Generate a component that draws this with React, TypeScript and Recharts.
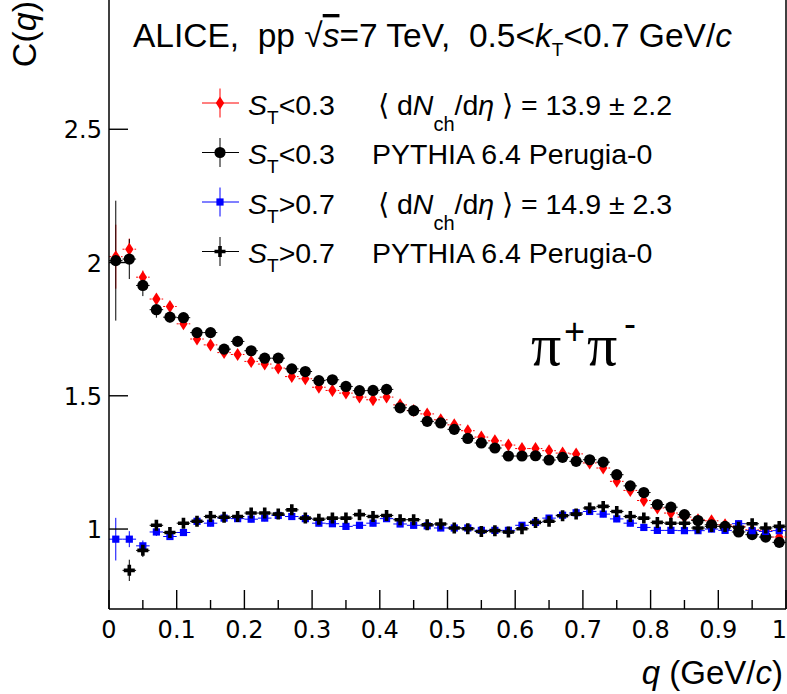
import React from 'react';
import { ScatterChart, Scatter, XAxis, YAxis, ErrorBar, ReferenceLine, Legend } from 'recharts';

// bin centres of q (GeV/c), bin width 0.02
const Q = [
  0.01, 0.03, 0.05, 0.07, 0.09, 0.11, 0.13, 0.15, 0.17, 0.19,
  0.21, 0.23, 0.25, 0.27, 0.29, 0.31, 0.33, 0.35, 0.37, 0.39,
  0.41, 0.43, 0.45, 0.47, 0.49, 0.51, 0.53, 0.55, 0.57, 0.59,
  0.61, 0.63, 0.65, 0.67, 0.69, 0.71, 0.73, 0.75, 0.77, 0.79,
  0.81, 0.83, 0.85, 0.87, 0.89, 0.91, 0.93, 0.95, 0.97, 0.99,
];
const BIN_HALF = 0.01;

// data, S_T < 0.3 (red diamonds)
const DATA_LOW = [
  2.022, 2.05, 1.945, 1.863, 1.835, 1.77, 1.713, 1.691, 1.662, 1.655,
  1.629, 1.619, 1.604, 1.572, 1.564, 1.532, 1.52, 1.51, 1.495, 1.485,
  1.495, 1.466, 1.445, 1.432, 1.41, 1.391, 1.369, 1.345, 1.331, 1.315,
  1.302, 1.302, 1.294, 1.285, 1.282, 1.248, 1.229, 1.179, 1.145, 1.107,
  1.079, 1.06, 1.045, 1.035, 1.031, 1.016, 1.01, 0.997, 0.994, 0.97,
];
// PYTHIA, S_T < 0.3 (black circles)
const PYTHIA_LOW = [
  2.007, 2.013, 1.914, 1.823, 1.795, 1.793, 1.737, 1.737, 1.675, 1.704,
  1.669, 1.641, 1.641, 1.601, 1.591, 1.557, 1.56, 1.535, 1.519, 1.52,
  1.524, 1.455, 1.444, 1.404, 1.398, 1.374, 1.34, 1.323, 1.304, 1.274,
  1.274, 1.275, 1.259, 1.269, 1.254, 1.26, 1.251, 1.204, 1.162, 1.137,
  1.092, 1.082, 1.054, 1.032, 1.016, 1.01, 0.989, 0.979, 0.97, 0.95,
];
// data, S_T > 0.7 (blue squares)
const DATA_HIGH = [
  0.962, 0.962, 0.937, 0.989, 0.972, 0.987, 1.029, 1.022, 1.041, 1.039,
  1.037, 1.041, 1.051, 1.047, 1.039, 1.022, 1.02, 1.01, 1.014, 1.022,
  1.039, 1.019, 1.014, 1.012, 1.004, 1.004, 1.004, 0.995, 0.995, 0.995,
  1.014, 1.025, 1.041, 1.052, 1.061, 1.066, 1.056, 1.038, 1.022, 1.006,
  0.995, 0.995, 0.994, 0.994, 1.0, 0.995, 1.02, 0.994, 0.991, 0.994,
];
// PYTHIA, S_T > 0.7 (black crosses)
const PYTHIA_HIGH = [
  null, 0.845, 0.92, 1.014, 0.987, 1.022, 1.029, 1.047, 1.044, 1.047,
  1.06, 1.06, 1.056, 1.072, 1.041, 1.037, 1.041, 1.041, 1.054, 1.047,
  1.051, 1.035, 1.035, 1.016, 1.019, 1.004, 1.001, 0.991, 0.994, 0.989,
  1.001, 1.025, 1.029, 1.05, 1.056, 1.079, 1.085, 1.066, 1.047, 1.041,
  1.025, 1.022, 1.022, 1.004, 1.01, 1.01, 1.007, 1.02, 1.004, 1.01,
];

// statistical errors of the first bins; later bins sit inside the markers
const ERR_DATA_LOW = [0.12, 0.04, 0.025, 0.02, 0.018, 0.015];
const ERR_PYTHIA_LOW = [0.225, 0.075, 0.04, 0.03, 0.02, 0.018];
const ERR_DATA_HIGH = [0.08, 0.03, 0.02, 0.015, 0.012];
const ERR_PYTHIA_HIGH = [0.06, 0.04, 0.025, 0.018, 0.015];
const ERR_REST = 0.012;

const Y_TICKS = [1, 1.5, 2, 2.5];
const X_TICKS = [
  0, 0.05, 0.1, 0.15, 0.2, 0.25, 0.3, 0.35, 0.4, 0.45, 0.5,
  0.55, 0.6, 0.65, 0.7, 0.75, 0.8, 0.85, 0.9, 0.95, 1,
];

const CUTS = ['<0.3', '<0.3', '>0.7', '>0.7'];
const MULTS = ['13.9 \u00b1 2.2', null, '14.9 \u00b1 2.3', null];
const MODEL = 'PYTHIA 6.4 Perugia-0';

const toPoints = (vals: (number | null)[], errs: number[]) =>
  Q.map((q, i) => ({ q, v: vals[i], ex: BIN_HALF, ey: errs[i] ?? ERR_REST })).filter((p) => p.v != null);

const redPts = toPoints(DATA_LOW, ERR_DATA_LOW);
const blackPts = toPoints(PYTHIA_LOW, ERR_PYTHIA_LOW);
const bluePts = toPoints(DATA_HIGH, ERR_DATA_HIGH);
const crossPts = toPoints(PYTHIA_HIGH, ERR_PYTHIA_HIGH);

const SANS = 'Liberation Sans, Arial, sans-serif';

// marker shapes (ROOT styles 33, 20, 21, 34)
const Diamond = ({ cx, cy }: any) => (
  <polygon points={`${cx},${cy - 6.5} ${cx + 4.2},${cy} ${cx},${cy + 6.5} ${cx - 4.2},${cy}`} fill="#ff0000" />
);
const Circle = ({ cx, cy }: any) => <circle cx={cx} cy={cy} r={5.6} fill="#000" />;
const Square = ({ cx, cy }: any) => <rect x={cx - 3.6} y={cy - 3.6} width={7.2} height={7.2} fill="#0000ff" />;
const Cross = ({ cx, cy }: any) => (
  <path
    d={`M${cx - 1.8},${cy - 5.5}h3.6v3.7h3.7v3.6h-3.7v3.7h-3.6v-3.7h-3.7v-3.6h3.7z`}
    fill="#000"
  />
);
const SHAPES = [Diamond, Circle, Square, Cross];
const COLORS = ['#ff0000', '#000000', '#0000ff', '#000000'];

const fmtX = (v: number) => (v === 0 ? '0' : v === 1 ? '1' : v.toFixed(1));

const XTick = ({ x, y, payload }: any) => {
  const v = payload.value;
  const major = Math.abs(v * 10 - Math.round(v * 10)) < 1e-6;
  const last = v === 1;
  return (
    <g>
      <line x1={x} x2={x} y1={y} y2={y - (major ? 19 : 9)} stroke="#000" strokeWidth={1.4} />
      {major && (
        <text
          x={last ? x + 1 : x}
          y={y + 29}
          textAnchor={last ? 'end' : 'middle'}
          fontFamily="DejaVu Sans"
          fontSize={24}
          fill="#000"
        >
          {fmtX(v)}
        </text>
      )}
    </g>
  );
};

const YTick = ({ x, y, payload }: any) => (
  <g>
    <line x1={x} x2={x + 19} y1={y} y2={y} stroke="#000" strokeWidth={1.4} />
    <text x={x - 7} y={y + 9} textAnchor="end" fontFamily="DejaVu Sans" fontSize={24} fill="#000">
      {payload.value}
    </text>
  </g>
);

function LegendBox() {
  return (
    <svg width={787} height={280} style={{ display: 'block' }}>
      {CUTS.map((cut, i) => {
        const y = 103 + i * 49.5;
        const Shape = SHAPES[i];
        return (
          <g key={i}>
            <line x1={202} x2={239} y1={y} y2={y} stroke={COLORS[i]} strokeWidth={1} />
            <line x1={220} x2={220} y1={y - 14.5} y2={y + 14.5} stroke={COLORS[i]} strokeWidth={1} />
            <Shape cx={220} cy={y} />
            <text x={248} y={y + 11.5} fontFamily={SANS} fontSize={28.5} fill="#000">
              <tspan fontStyle="italic">S</tspan>
              <tspan fontSize={19} dy={9}>T</tspan>
              <tspan dy={-9}>{cut}</tspan>
            </text>
            {MULTS[i] ? (
              <text x={378} y={y + 11.5} fontFamily={SANS} fontSize={28.5} fill="#000" xmlSpace="preserve">
                <tspan>{'\u27e8 d'}</tspan>
                <tspan fontStyle="italic">N</tspan>
                <tspan fontSize={20} dy={16}>ch</tspan>
                <tspan dy={-16}>/d</tspan>
                <tspan fontStyle="italic">{'\u03b7'}</tspan>
                <tspan>{' \u27e9 = ' + MULTS[i]}</tspan>
              </text>
            ) : (
              <text x={372} y={y + 11.5} fontFamily={SANS} fontSize={28.5} fill="#000">
                {MODEL}
              </text>
            )}
          </g>
        );
      })}
    </svg>
  );
}

export default function App() {
  return (
    <div
      style={{
        position: 'absolute', left: 0, top: 0, width: 787, height: 694,
        overflow: 'hidden', background: '#fff', fontFamily: SANS,
      }}
    >
      <div style={{ position: 'absolute', left: 0, top: -4 }}>
        <ScatterChart width={787} height={698} margin={{ top: 0, right: 1, bottom: 0, left: 0 }}>
          <XAxis
            type="number"
            dataKey="q"
            domain={[0, 1]}
            ticks={X_TICKS}
            interval={0}
            height={85}
            tickSize={0}
            tickMargin={0}
            tickLine={false}
            tick={<XTick />}
            axisLine={{ stroke: '#000', strokeWidth: 1.5 }}
            allowDataOverflow
          />
          <YAxis
            type="number"
            dataKey="v"
            domain={[0.7, 3]}
            ticks={Y_TICKS}
            interval={0}
            width={109}
            tickSize={0}
            tickMargin={0}
            tickLine={false}
            tick={<YTick />}
            axisLine={{ stroke: '#000', strokeWidth: 1.5 }}
            allowDataOverflow
          />
          <ReferenceLine x={1} stroke="#000" strokeWidth={1.5} />
          <Legend
            layout="horizontal"
            verticalAlign="middle"
            align="center"
            wrapperStyle={{ top: 4, left: 0, width: 787, height: 280 }}
            content={() => <LegendBox />}
          />
          <Scatter name="data S_T<0.3" data={redPts} shape={<Diamond />} isAnimationActive={false}>
            <ErrorBar dataKey="ex" direction="x" width={0} stroke="#ff0000" strokeWidth={1} strokeDasharray="2 2" isAnimationActive={false} />
            <ErrorBar dataKey="ey" direction="y" width={0} stroke="#ff0000" strokeWidth={1} isAnimationActive={false} />
          </Scatter>
          <Scatter name="PYTHIA S_T<0.3" data={blackPts} shape={<Circle />} isAnimationActive={false}>
            <ErrorBar dataKey="ex" direction="x" width={0} stroke="#000" strokeWidth={1} isAnimationActive={false} />
            <ErrorBar dataKey="ey" direction="y" width={0} stroke="#000" strokeWidth={1} isAnimationActive={false} />
          </Scatter>
          <Scatter name="data S_T>0.7" data={bluePts} shape={<Square />} isAnimationActive={false}>
            <ErrorBar dataKey="ex" direction="x" width={0} stroke="#0000ff" strokeWidth={1} isAnimationActive={false} />
            <ErrorBar dataKey="ey" direction="y" width={0} stroke="#0000ff" strokeWidth={1} isAnimationActive={false} />
          </Scatter>
          <Scatter name="PYTHIA S_T>0.7" data={crossPts} shape={<Cross />} isAnimationActive={false}>
            <ErrorBar dataKey="ex" direction="x" width={0} stroke="#000" strokeWidth={1} isAnimationActive={false} />
            <ErrorBar dataKey="ey" direction="y" width={0} stroke="#000" strokeWidth={1} isAnimationActive={false} />
          </Scatter>
        </ScatterChart>
      </div>
      <svg
        width={787}
        height={694}
        style={{ position: 'absolute', left: 0, top: 0, pointerEvents: 'none' }}
      >
        <text x={133} y={47} fontFamily={SANS} fontSize={33.5} fill="#000" xmlSpace="preserve">
          <tspan>{'ALICE,  pp '}</tspan>
          <tspan>{'\u221a'}</tspan>
          <tspan fontStyle="italic" textDecoration="overline">s</tspan>
          <tspan>{'=7 TeV,  0.5<'}</tspan>
          <tspan fontStyle="italic">k</tspan>
          <tspan fontSize={19} dy={9}>T</tspan>
          <tspan dy={-9}>{'<0.7 GeV/'}</tspan>
          <tspan fontStyle="italic">c</tspan>
        </text>
        <text y={365} fontFamily="Liberation Serif, serif" fontSize={60} fill="#000">
          <tspan x={531}>{'\u03c0'}</tspan>
          <tspan x={564} fontSize={36} dy={-21} fontFamily={SANS}>+</tspan>
          <tspan x={587} dy={21}>{'\u03c0'}</tspan>
          <tspan x={624} fontSize={36} dy={-29} fontFamily={SANS}>-</tspan>
        </text>
        <text x={783} y={684} textAnchor="end" fontFamily={SANS} fontSize={33} fill="#000">
          <tspan fontStyle="italic">q</tspan>
          <tspan>{' (GeV/'}</tspan>
          <tspan fontStyle="italic">c</tspan>
          <tspan>)</tspan>
        </text>
        <text
          transform="translate(36, 1) rotate(-90)"
          textAnchor="end"
          fontFamily={SANS}
          fontSize={34}
          fill="#000"
        >
          <tspan>C(</tspan>
          <tspan fontStyle="italic">q</tspan>
          <tspan>)</tspan>
        </text>
      </svg>
    </div>
  );
}
